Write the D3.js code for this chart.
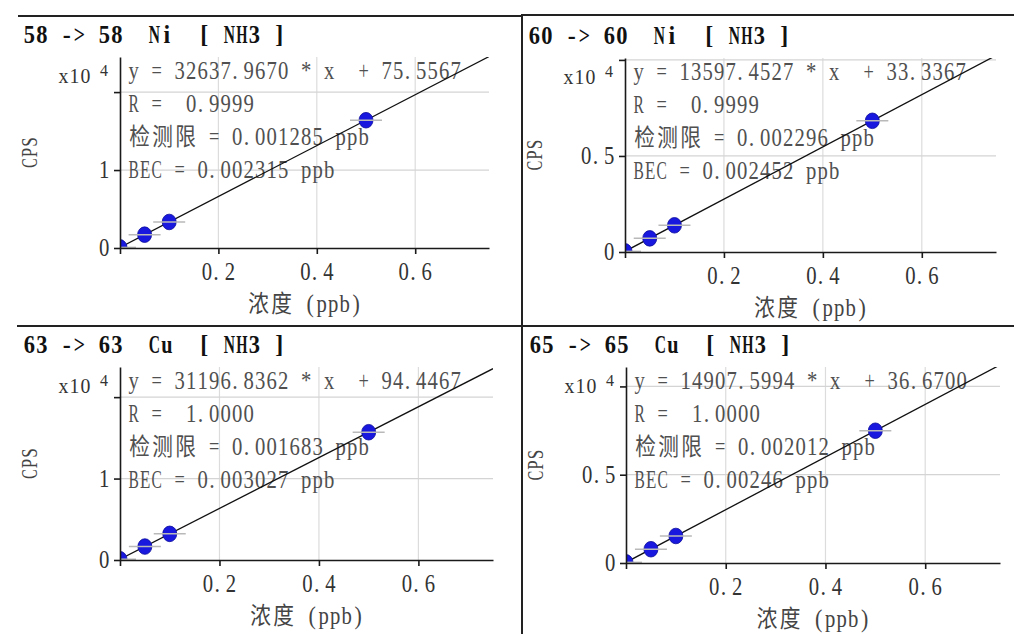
<!DOCTYPE html>
<html lang="zh">
<head>
<meta charset="utf-8">
<title>校准曲线 Ni / Cu</title>
<script src="https://d3js.org/d3.v7.min.js"></script>
<style>
  body { margin: 0; background: #fff; }
  svg text { font-family: "Liberation Serif", "Noto Sans CJK SC", serif; }
</style>
</head>
<body>
<svg id="cal" width="1014" height="634"></svg>
<script>
// ---- data ----
var titles = ["58 -> 58  Ni  [ NH3 ]", "60 -> 60  Ni  [ NH3 ]",
              "63 -> 63  Cu  [ NH3 ]", "65 -> 65  Cu  [ NH3 ]"];
var slopes = [32637.9670, 13597.4527, 31196.8362, 14907.5994];
var intercepts = [75.5567, 33.3367, 94.4467, 36.6700];
var rValues = ["0.9999", "0.9999", "1.0000", "1.0000"];
var lods = ["0.001285", "0.002296", "0.001683", "0.002012"];
var becs = ["0.002315", "0.002452", "0.003027", "0.00246"];

var concentrations = [0, 0.05, 0.1, 0.5];           // ppb
var cps = [                                          // x10^4 CPS
  [0.0076, 0.171, 0.334, 1.639],
  [0.0033, 0.071, 0.139, 0.683],
  [0.0094, 0.165, 0.321, 1.569],
  [0.0037, 0.078, 0.153, 0.749]
];

var xTicks = [0, 0.2, 0.4, 0.6];
var xTickLabels = ["", "0.2", "0.4", "0.6"];
var xMax = 0.75;
var yTicks = [[0, 1, 2], [0, 0.5, 1], [0, 1, 2], [0, 0.5, 1]];
var yTickLabels = [["0", "1", ""], ["0", "0.5", ""], ["0", "1", ""], ["0", "0.5", ""]];
var yMax = [2.45, 1.01, 2.37, 1.11];

// ---- layout (plot boxes of the four panels) ----
var boxes = [
  {left: 120, top: 57,  right: 489,  bottom: 248},
  {left: 625, top: 58,  right: 996,  bottom: 252},
  {left: 120, top: 367, right: 493,  bottom: 560},
  {left: 626, top: 367, right: 1000, bottom: 563}
];

var svg = d3.select("#cal");

// monospace-like text: every ASCII char takes one cell, CJK two.
// glyphs wider than their cell are squeezed, like the instrument font.
function cellsOf(ch) { return ch.charCodeAt(0) > 0x2e80 ? 2 : 1; }
function cellWidth(str, w) { return d3.sum(Array.from(str), cellsOf) * w; }
function cellText(g, str, x0, y, w, sy) {
  sy = sy || 1;
  var t = g.append("g").attr("transform", "translate(" + x0 + "," + y + ")");
  var x = 0;
  Array.from(str).forEach(function (ch) {
    var n = cellsOf(ch);
    if (ch !== " ") {
      var cx = ch === "." ? x + w * 0.3 : x + n * w / 2;
      var el = t.append("text").attr("text-anchor", "middle").text(ch);
      var cw = el.node().getComputedTextLength();
      var s = Math.min(1, n * w * 0.9 / cw);
      el.attr("transform", "translate(" + cx + ",0) scale(" + s + "," + sy + ")");
    }
    x += n * w;
  });
  return t;
}

// frame lines of the screenshot
var frame = svg.append("g").attr("stroke", "#222").attr("stroke-width", 2);
frame.append("line").attr("x1", 18).attr("x2", 522).attr("y1", 16).attr("y2", 16);
frame.append("line").attr("x1", 522).attr("x2", 1014).attr("y1", 15).attr("y2", 15);
frame.append("line").attr("x1", 522).attr("x2", 522).attr("y1", 14).attr("y2", 634);
frame.append("line").attr("x1", 17).attr("x2", 1014).attr("y1", 326).attr("y2", 326);

boxes.forEach(function (b, i) {
  var g = svg.append("g");
  var x = d3.scaleLinear().domain([0, xMax]).range([b.left, b.right]);
  var y = d3.scaleLinear().domain([0, yMax[i]]).range([b.bottom, b.top]);

  svg.append("clipPath").attr("id", "clip" + i)
    .append("rect").attr("x", b.left).attr("y", b.top)
    .attr("width", b.right - b.left).attr("height", b.bottom - b.top);

  // grid
  g.selectAll("line.vgrid").data(xTicks.slice(1)).enter().append("line")
    .attr("class", "vgrid")
    .attr("x1", d => x(d)).attr("x2", d => x(d))
    .attr("y1", b.top).attr("y2", b.bottom)
    .attr("stroke", "#dcdcdc").attr("stroke-width", 1.2);
  g.selectAll("line.hgrid").data(yTicks[i].slice(1)).enter().append("line")
    .attr("class", "hgrid")
    .attr("x1", b.left).attr("x2", b.right)
    .attr("y1", d => y(d)).attr("y2", d => y(d))
    .attr("stroke", "#d4d4d4").attr("stroke-width", 1.2);

  // annotation
  var notes = [
    "y = " + slopes[i].toFixed(4) + " * x  + " + intercepts[i].toFixed(4),
    "R =  " + rValues[i],
    "检测限 = " + lods[i] + " ppb",
    "BEC = " + becs[i] + " ppb"
  ];
  var ann = g.append("g").attr("fill", "#505050").style("font-size", "22px");
  notes.forEach(function (t, k) {
    cellText(ann, t, b.left + 8, b.top + 22 + k * 33, 11.5, 1.1);
  });

  // fitted line
  var fit = c => (slopes[i] * c + intercepts[i]) / 1e4;
  g.append("line").attr("clip-path", "url(#clip" + i + ")")
    .attr("x1", x(0)).attr("y1", y(fit(0)))
    .attr("x2", x(xMax)).attr("y2", y(fit(xMax)))
    .attr("stroke", "#111").attr("stroke-width", 1.3);

  // standards
  var pts = concentrations.map((c, j) => [c, cps[i][j]]);
  var pg = g.append("g").attr("clip-path", "url(#clip" + i + ")");
  pg.selectAll("ellipse").data(pts).enter().append("ellipse")
    .attr("cx", d => x(d[0])).attr("cy", d => y(d[1])).attr("rx", 7).attr("ry", 7.8)
    .attr("fill", "#1818de").attr("stroke", "#0c0c9c").attr("stroke-width", 0.8);
  pg.selectAll("line.bar").data(pts).enter().append("line")
    .attr("class", "bar")
    .attr("x1", d => x(d[0]) - 16).attr("x2", d => x(d[0]) + 16)
    .attr("y1", d => y(d[1])).attr("y2", d => y(d[1]))
    .attr("stroke", "#b9b9b9").attr("stroke-width", 1.5);

  // axes
  var xAxis = d3.axisBottom(x).tickValues(xTicks).tickSize(6).tickSizeOuter(0).tickFormat("");
  var yAxis = d3.axisLeft(y).tickValues(yTicks[i]).tickSize(6).tickSizeOuter(0).tickFormat("");
  [g.append("g").attr("transform", "translate(0," + b.bottom + ")").call(xAxis),
   g.append("g").attr("transform", "translate(" + b.left + ",0)").call(yAxis)]
    .forEach(function (a) {
      a.selectAll("path, line").attr("stroke", "#1a1a1a").attr("stroke-width", 1.6);
    });

  // tick labels
  var tl = g.append("g").attr("fill", "#333").style("font-size", "22px");
  xTicks.forEach(function (d, k) {
    var s = xTickLabels[k];
    if (s) cellText(tl, s, x(d) - cellWidth(s, 11.5) / 2, b.bottom + 32, 11.5, 1.1);
  });
  yTicks[i].forEach(function (d, k) {
    var s = yTickLabels[i][k];
    if (s) cellText(tl, s, b.left - 10 - cellWidth(s, 11.5), y(d) + 8, 11.5, 1.1);
  });

  // exponent
  cellText(g.append("g").attr("fill", "#333").style("font-size", "20px"), "x10", b.left - 62, b.top + 26, 11, 1.05);
  g.append("text").attr("x", b.left - 20).attr("y", b.top + 19)
    .attr("fill", "#333").style("font-size", "16px").text("4");

  // axis titles
  var cg = g.append("g").attr("fill", "#444").style("font-size", "20px")
    .attr("transform", "translate(" + (b.left - 83) + "," + ((b.top + b.bottom) / 2) + ") rotate(-90)");
  cellText(cg, "CPS", -cellWidth("CPS", 10.5) / 2, 0, 10.5, 1.15);
  var xl = "浓度 (ppb)";
  cellText(g.append("g").attr("fill", "#444").style("font-size", "22px"),
    xl, (b.left + b.right) / 2 - cellWidth(xl, 11.5) / 2, b.bottom + 64, 11.5, 1.1);

  // panel title
  cellText(g.append("g").attr("fill", "#111").style("font-size", "24px").style("font-weight", "bold"),
    titles[i], b.left - 97, b.top - 14, 12.5, 1.05);
});
</script>
</body>
</html>
